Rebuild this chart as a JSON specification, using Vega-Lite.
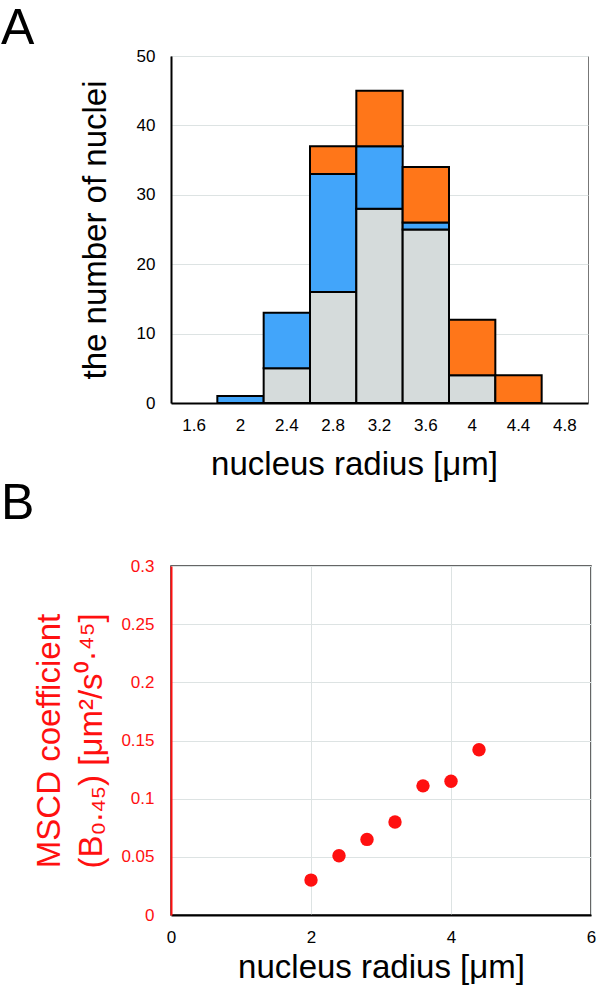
{
  "$schema": "https://vega.github.io/schema/vega-lite/v6.json",
  "background": "white",
  "padding": {"left": 0, "top": 3, "right": 5, "bottom": 0},
  "config": {
    "font": "Liberation Sans",
    "view": {"stroke": "#777", "strokeWidth": 1},
    "axis": {"ticks": false, "labelFont": "Liberation Sans", "titleFont": "Liberation Sans", "titleFontWeight": "normal", "labelFontSize": 17, "titleFontSize": 33, "labelColor": "black", "titleColor": "black", "gridColor": "#dde3e3", "gridWidth": 1, "domainColor": "black", "domainWidth": 2},
    "title": {"fontSize": 50, "fontWeight": "normal", "font": "Liberation Sans", "anchor": "start", "frame": "group", "baseline": "alphabetic", "color": "black"}
  },
  "spacing": -4,
  "vconcat": [
    {
      "title": {"text": "A", "dx": -170, "offset": -7},
      "width": 417,
      "height": 347,
      "data": {
        "values": [
          {"bin": "2", "group": "blue", "ord": 2, "count": 1},
          {"bin": "2.4", "group": "gray", "ord": 1, "count": 5},
          {"bin": "2.4", "group": "blue", "ord": 2, "count": 8},
          {"bin": "2.8", "group": "gray", "ord": 1, "count": 16},
          {"bin": "2.8", "group": "blue", "ord": 2, "count": 17},
          {"bin": "2.8", "group": "orange", "ord": 3, "count": 4},
          {"bin": "3.2", "group": "gray", "ord": 1, "count": 28},
          {"bin": "3.2", "group": "blue", "ord": 2, "count": 9},
          {"bin": "3.2", "group": "orange", "ord": 3, "count": 8},
          {"bin": "3.6", "group": "gray", "ord": 1, "count": 25},
          {"bin": "3.6", "group": "blue", "ord": 2, "count": 1},
          {"bin": "3.6", "group": "orange", "ord": 3, "count": 8},
          {"bin": "4", "group": "gray", "ord": 1, "count": 4},
          {"bin": "4", "group": "orange", "ord": 3, "count": 8},
          {"bin": "4.4", "group": "orange", "ord": 3, "count": 4}
        ]
      },
      "mark": {"type": "bar", "stroke": "black", "strokeWidth": 2},
      "encoding": {
        "x": {
          "field": "bin", "type": "ordinal",
          "scale": {"domain": ["1.6", "2", "2.4", "2.8", "3.2", "3.6", "4", "4.4", "4.8"], "paddingInner": 0, "paddingOuter": 0},
          "axis": {"labelAngle": 0, "labelPadding": 14, "title": "nucleus radius [μm]", "titlePadding": 15, "titleX": 183, "zindex": 1}
        },
        "y": {
          "field": "count", "type": "quantitative", "aggregate": "sum",
          "scale": {"domain": [0, 50]},
          "axis": {"values": [0, 10, 20, 30, 40, 50], "labelPadding": 16, "title": "the number of nuclei", "titlePadding": 24}
        },
        "color": {
          "field": "group", "type": "nominal",
          "scale": {"domain": ["gray", "blue", "orange"], "range": ["#d5dbdb", "#42a5fa", "#ff7619"]},
          "legend": null
        },
        "order": {"field": "ord", "type": "quantitative"}
      }
    },
    {
      "title": {"text": "B", "dx": -170, "offset": 28},
      "width": 420,
      "height": 349,
      "view": {"stroke": "#333", "strokeWidth": 1.5},
      "data": {
        "values": [
          {"radius": 2.0, "coef": 0.030},
          {"radius": 2.4, "coef": 0.051},
          {"radius": 2.8, "coef": 0.065},
          {"radius": 3.2, "coef": 0.080},
          {"radius": 3.6, "coef": 0.111},
          {"radius": 4.0, "coef": 0.115},
          {"radius": 4.4, "coef": 0.142}
        ]
      },
      "mark": {"type": "circle", "size": 180, "opacity": 1, "color": "#ff1010"},
      "encoding": {
        "x": {
          "field": "radius", "type": "quantitative",
          "scale": {"domain": [0, 6], "nice": false},
          "axis": {"values": [0, 2, 4, 6], "labelFlush": false, "labelPadding": 14, "title": "nucleus radius [μm]", "titlePadding": 6}
        },
        "y": {
          "field": "coef", "type": "quantitative",
          "scale": {"domain": [0, 0.3], "nice": false},
          "axis": {"values": [0, 0.05, 0.1, 0.15, 0.2, 0.25, 0.3], "format": ".2~f", "labelColor": "#ff1010", "domainColor": "#ff1010", "labelPadding": 17, "title": ["MSCD coefficient", "(B₀.₄₅) [μm²/s⁰·⁴⁵]"], "titleColor": "#ff1010", "titleLineHeight": 42, "titlePadding": 12}
        }
      }
    }
  ]
}
